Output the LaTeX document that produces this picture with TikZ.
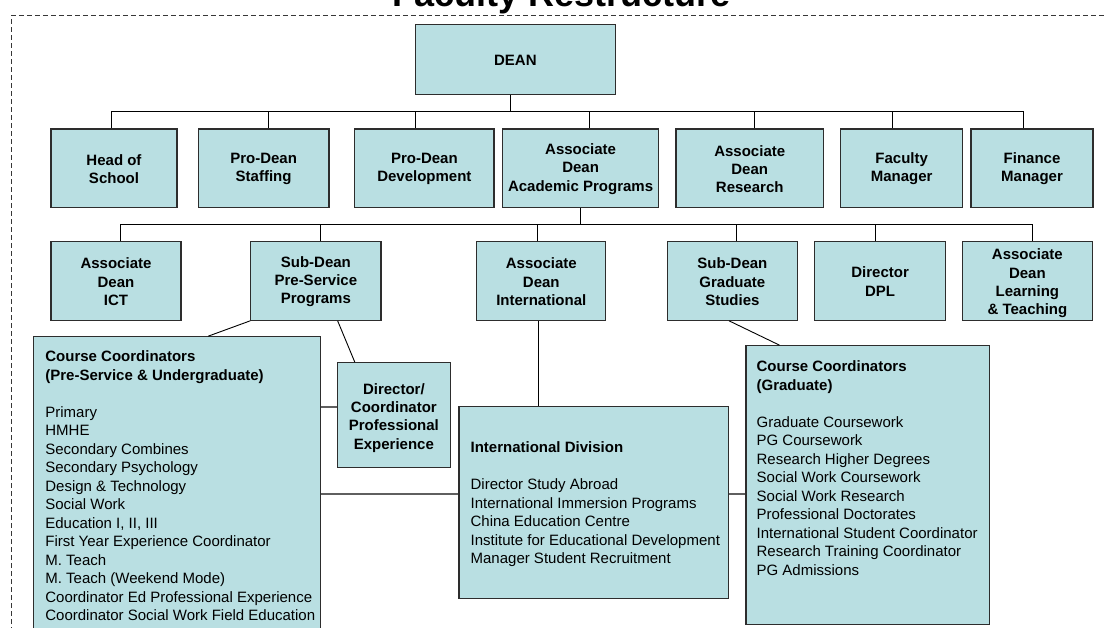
\documentclass[tikz,border=0pt]{standalone}
\usepackage{fontspec}
\setmainfont{Liberation Sans}
\usetikzlibrary{fit,calc}
\definecolor{boxfill}{RGB}{185,223,226}
\definecolor{boxline}{RGB}{45,45,45}
\definecolor{frameline}{RGB}{55,55,55}
\definecolor{linkgray}{RGB}{95,95,95}
\begin{document}
\begin{tikzpicture}[x=1pt,y=-1pt,
  box/.style={draw=boxline, fill=boxfill, line width=1.1pt, inner sep=0pt},
  boxtext/.style={anchor=center, align=center, inner sep=0pt,
    font=\bfseries\fontsize{15}{18.3}\selectfont, yshift=-0.8pt},
  conn/.style={draw=black, line width=0.9pt},
  link/.style={draw=linkgray, line width=1.6pt},
  listtext/.style={anchor=north west, align=left, inner sep=0pt,
    font=\fontsize{15}{18.5}\selectfont},
  dashframe/.style={draw=frameline, line width=1.1pt, dash pattern=on 5pt off 3pt}]
\useasboundingbox (0,0) rectangle (1104,628);
\clip (0,0) rectangle (1104,628);

% title and frame
\node[font=\bfseries\fontsize{36}{40}\selectfont, anchor=base, inner sep=0pt] (title) at (562,7) {Faculty Restructure};
\draw[dashframe] (11.7,680) -- (11.7,15.2) -- (1130,15.2);

% top
\node[box, fit={(415.5,24.7) (615.3,94.3)}, label={[boxtext]center:DEAN}] (dean) {};

% row 1
\node[box, fit={(51,129) (177,207.3)}, label={[boxtext]center:{Head of\\School}}] (hos) {};
\node[box, fit={(198.3,129) (329,207.3)}, label={[boxtext]center:{Pro-Dean\\Staffing}}] (stf) {};
\node[box, fit={(354.7,129) (494,207.3)}, label={[boxtext]center:{Pro-Dean\\Development}}] (dev) {};
\node[box, fit={(502.5,129) (658.7,207.3)}, label={[boxtext]center:{Associate\\Dean\\Academic Programs}}] (adap) {};
\node[box, fit={(676,129) (823.5,207.3)}, label={[boxtext]center:{Associate\\Dean\\Research}}] (adr) {};
\node[box, fit={(840.7,129) (962.7,207.3)}, label={[boxtext]center:{Faculty\\Manager}}] (fm) {};
\node[box, fit={(971,129) (1093,207.3)}, label={[boxtext]center:{Finance\\Manager}}] (fin) {};

% row 2
\node[box, fit={(51,241.5) (181,320.3)}, label={[boxtext]center:{Associate\\Dean\\ICT}}] (ict) {};
\node[box, fit={(250.7,241.5) (381,320.3)}, label={[boxtext]center:{Sub-Dean\\Pre-Service\\Programs}}] (sdps) {};
\node[box, fit={(476.8,241.5) (605.8,320.3)}, label={[boxtext]center:{Associate\\Dean\\International}}] (adi) {};
\node[box, fit={(667.3,241.5) (797.5,320.3)}, label={[boxtext]center:{Sub-Dean\\Graduate\\Studies}}] (sdg) {};
\node[box, fit={(814.8,241.5) (945.4,320.3)}, label={[boxtext]center:{Director\\DPL}}] (dpl) {};
\node[box, fit={(962.3,241.5) (1092.5,320.3)}, label={[boxtext, yshift=-1.8pt]center:{Associate\\Dean\\Learning\\\& Teaching}}] (alt) {};

% lower boxes
\node[box, fit={(337.5,362.7) (450.3,467.8)}, label={[boxtext, yshift=-1.8pt]center:{Director/\\Coordinator\\Professional\\Experience}}] (dir) {};

\node[box, fit={(33.3,336.7) (320.7,660)},
  label={[listtext, xshift=12.4pt, yshift=-14.5pt]north west:{\textbf{Course Coordinators}\\\textbf{(Pre-Service \& Undergraduate)}\\[18.5pt]Primary\\HMHE\\Secondary Combines\\Secondary Psychology\\Design \& Technology\\Social Work\\Education I, II, III\\First Year Experience Coordinator\\M. Teach\\M. Teach (Weekend Mode)\\Coordinator Ed Professional Experience\\Coordinator Social Work Field Education}}] (ccps) {};

\node[box, fit={(459,406.7) (728.6,598.3)},
  label={[listtext, xshift=12pt, yshift=-35.5pt]north west:{\textbf{International Division}\\[18.5pt]Director Study Abroad\\International Immersion Programs\\China Education Centre\\Institute for Educational Development\\Manager Student Recruitment}}] (intl) {};

\node[box, fit={(746,345.7) (989.3,624.3)},
  label={[listtext, xshift=11pt, yshift=-15.5pt]north west:{\textbf{Course Coordinators}\\\textbf{(Graduate)}\\[18.5pt]Graduate Coursework\\PG Coursework\\Research Higher Degrees\\Social Work Coursework\\Social Work Research\\Professional Doctorates\\International Student Coordinator\\Research Training Coordinator\\PG Admissions}}] (ccg) {};

% row 1 connectors
\coordinate (t0) at (510.6,111.3);
\coordinate (t1) at (111.8,111.3);
\coordinate (t2) at (268.3,111.3);
\coordinate (t3) at (415.4,111.3);
\coordinate (t4) at (589.3,111.3);
\coordinate (t5) at (754.7,111.3);
\coordinate (t6) at (892.9,111.3);
\coordinate (t7) at (1023,111.3);
\draw[conn] (t0 |- dean.south) -- (t0);
\draw[conn] (t1) -- (t7);
\draw[conn] (t1) -- (t1 |- hos.north);
\draw[conn] (t2) -- (t2 |- stf.north);
\draw[conn] (t3) -- (t3 |- dev.north);
\draw[conn] (t4) -- (t4 |- adap.north);
\draw[conn] (t5) -- (t5 |- adr.north);
\draw[conn] (t6) -- (t6 |- fm.north);
\draw[conn] (t7) -- (t7 |- fin.north);

% row 2 connectors
\coordinate (u0) at (580.3,224.5);
\coordinate (u1) at (120.7,224.5);
\coordinate (u2) at (320,224.5);
\coordinate (u3) at (537.5,224.5);
\coordinate (u4) at (736.8,224.5);
\coordinate (u5) at (875.6,224.5);
\coordinate (u6) at (1032,224.5);
\draw[conn] (u0 |- adap.south) -- (u0);
\draw[conn] (u1) -- (u6);
\draw[conn] (u1) -- (u1 |- ict.north);
\draw[conn] (u2) -- (u2 |- sdps.north);
\draw[conn] (u3) -- (u3 |- adi.north);
\draw[conn] (u4) -- (u4 |- sdg.north);
\draw[conn] (u5) -- (u5 |- dpl.north);
\draw[conn] (u6) -- (u6 |- alt.north);

% lower connectors
\draw[conn] (sdps.south west) -- ([xshift=31.3pt]ccps.north);
\draw[conn] ([xshift=21.8pt]sdps.south) -- ([xshift=-39.1pt]dir.north);
\draw[conn] ([xshift=-3.3pt]sdg.south) -- ([xshift=-88.2pt]ccg.north);
\coordinate (v1) at (538,320);
\draw[conn] (v1 |- adi.south) -- (v1 |- intl.north);

\coordinate (h1) at (0,407);
\coordinate (h2) at (0,493.7);
\draw[link] (ccps.east |- h1) -- (dir.west |- h1);
\draw[link] (ccps.east |- h2) -- (intl.west |- h2);
\draw[link] (intl.east |- h2) -- (ccg.west |- h2);
\end{tikzpicture}
\end{document}
